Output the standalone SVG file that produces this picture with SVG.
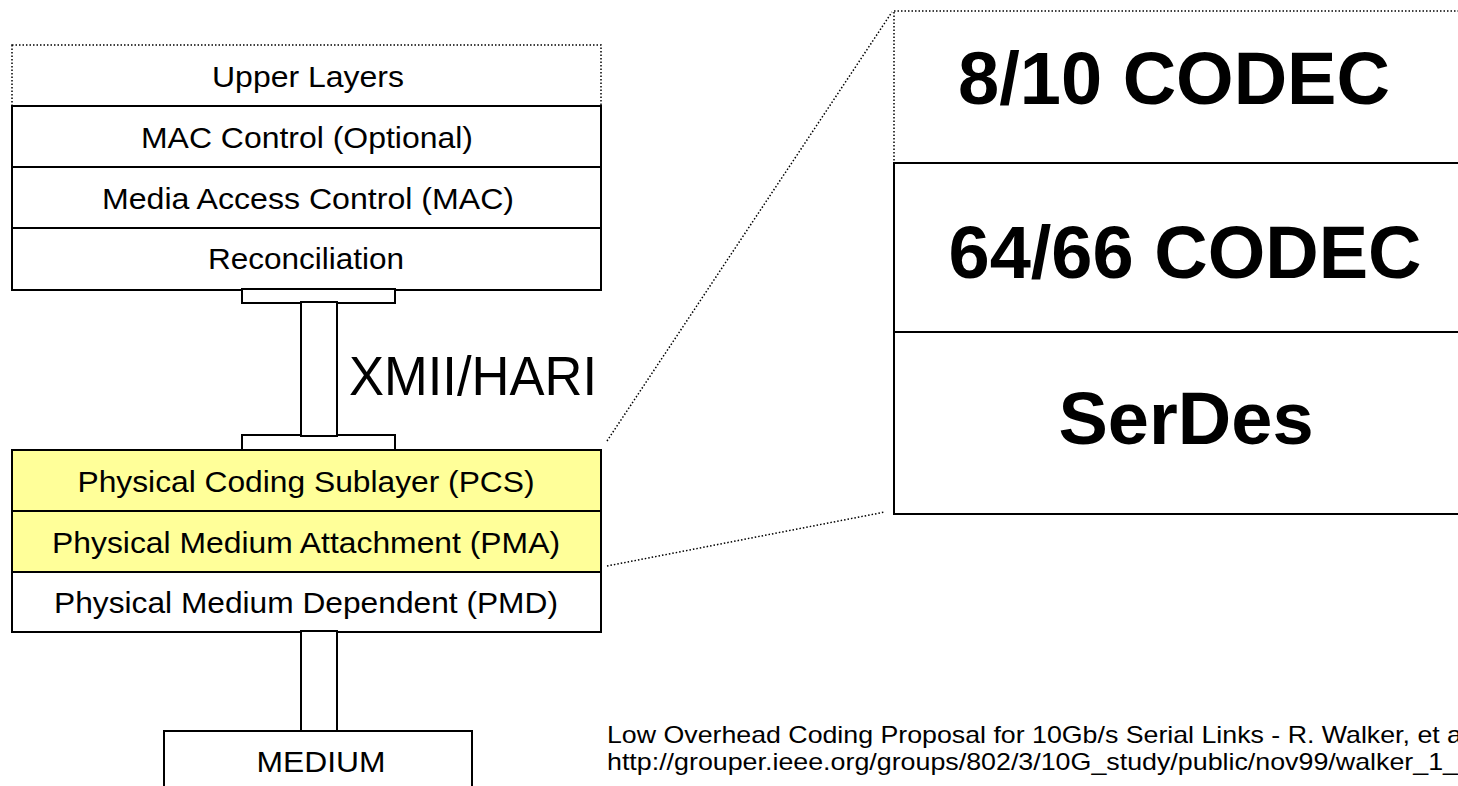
<svg xmlns="http://www.w3.org/2000/svg" width="1458" height="786" viewBox="0 0 1458 786">
<style>
.box{fill:#fff;stroke:#000;stroke-width:2}
.yel{fill:#ffff99;stroke:#000;stroke-width:2}
.dot{fill:none;stroke:#000;stroke-width:1.5;stroke-dasharray:1.5 2}
.t{font-family:"Liberation Sans",Arial,sans-serif;font-size:30px;text-anchor:middle;fill:#000}
.big{font-family:"Liberation Sans",Arial,sans-serif;font-size:74px;font-weight:bold;text-anchor:middle;fill:#000}
.foot{font-family:"Liberation Sans",Arial,sans-serif;font-size:24px;fill:#000}
</style>
<rect width="1458" height="786" fill="#fff"/>
<g id="connectors">
<line class="dot" x1="607" y1="441" x2="892" y2="12"/>
<line class="dot" x1="607" y1="566" x2="885" y2="512"/>
</g>
<g id="upper-layers">
<rect class="dot" x="12" y="45" width="589" height="61"/>
<text class="t" x="308" y="87" textLength="192" lengthAdjust="spacingAndGlyphs">Upper Layers</text>
</g>
<g id="mac-control">
<rect class="box" x="12" y="106" width="589" height="61" stroke-width="2.5"/>
<text class="t" x="307" y="148" textLength="332" lengthAdjust="spacingAndGlyphs">MAC Control (Optional)</text>
</g>
<g id="mac">
<rect class="box" x="12" y="167" width="589" height="61" stroke-width="2.5"/>
<text class="t" x="308" y="209" textLength="412" lengthAdjust="spacingAndGlyphs">Media Access Control (MAC)</text>
</g>
<g id="reconciliation">
<rect class="box" x="12" y="228" width="589" height="62"/>
<text class="t" x="306" y="269" textLength="196" lengthAdjust="spacingAndGlyphs">Reconciliation</text>
</g>
<g id="xmii">
<rect class="box" x="242" y="289" width="153" height="14"/>
<rect class="box" x="242" y="435" width="153" height="15"/>
<rect class="box" x="301" y="302" width="36" height="134" stroke-width="3"/>
<text x="349" y="395" font-family="Liberation Sans, Arial, sans-serif" font-size="56" fill="#000" textLength="248" lengthAdjust="spacingAndGlyphs">XMII/HARI</text>
</g>
<g id="pcs">
<rect class="yel" x="12" y="450" width="589" height="61"/>
<text class="t" x="306" y="492" textLength="457" lengthAdjust="spacingAndGlyphs">Physical Coding Sublayer (PCS)</text>
</g>
<g id="pma">
<rect class="yel" x="12" y="511" width="589" height="61"/>
<text class="t" x="306" y="553" textLength="508" lengthAdjust="spacingAndGlyphs">Physical Medium Attachment (PMA)</text>
</g>
<g id="pmd">
<rect class="box" x="12" y="572" width="589" height="60"/>
<text class="t" x="306" y="613" textLength="504" lengthAdjust="spacingAndGlyphs">Physical Medium Dependent (PMD)</text>
</g>
<g id="medium-link">
<rect class="box" x="301" y="631" width="36" height="100" stroke-width="3"/>
</g>
<g id="medium">
<rect class="box" x="164" y="731" width="308" height="70"/>
<text class="t" x="321" y="772" textLength="129" lengthAdjust="spacingAndGlyphs">MEDIUM</text>
</g>
<g id="codec-8-10">
<rect class="dot" x="894" y="11" width="600" height="152"/>
<text class="big" x="1174" y="104">8/10 CODEC</text>
</g>
<g id="codec-64-66">
<rect class="box" x="894" y="163" width="600" height="169"/>
<text class="big" x="1185" y="278">64/66 CODEC</text>
</g>
<g id="serdes">
<rect class="box" x="894" y="332" width="600" height="182"/>
<text class="big" x="1186" y="444">SerDes</text>
</g>
<g id="footer">
<text class="foot" x="607" y="743" textLength="855" lengthAdjust="spacingAndGlyphs">Low Overhead Coding Proposal for 10Gb/s Serial Links - R. Walker, et a</text>
<text class="foot" x="607" y="770" textLength="851" lengthAdjust="spacingAndGlyphs">http://grouper.ieee.org/groups/802/3/10G_study/public/nov99/walker_1_</text>
</g>
</svg>
